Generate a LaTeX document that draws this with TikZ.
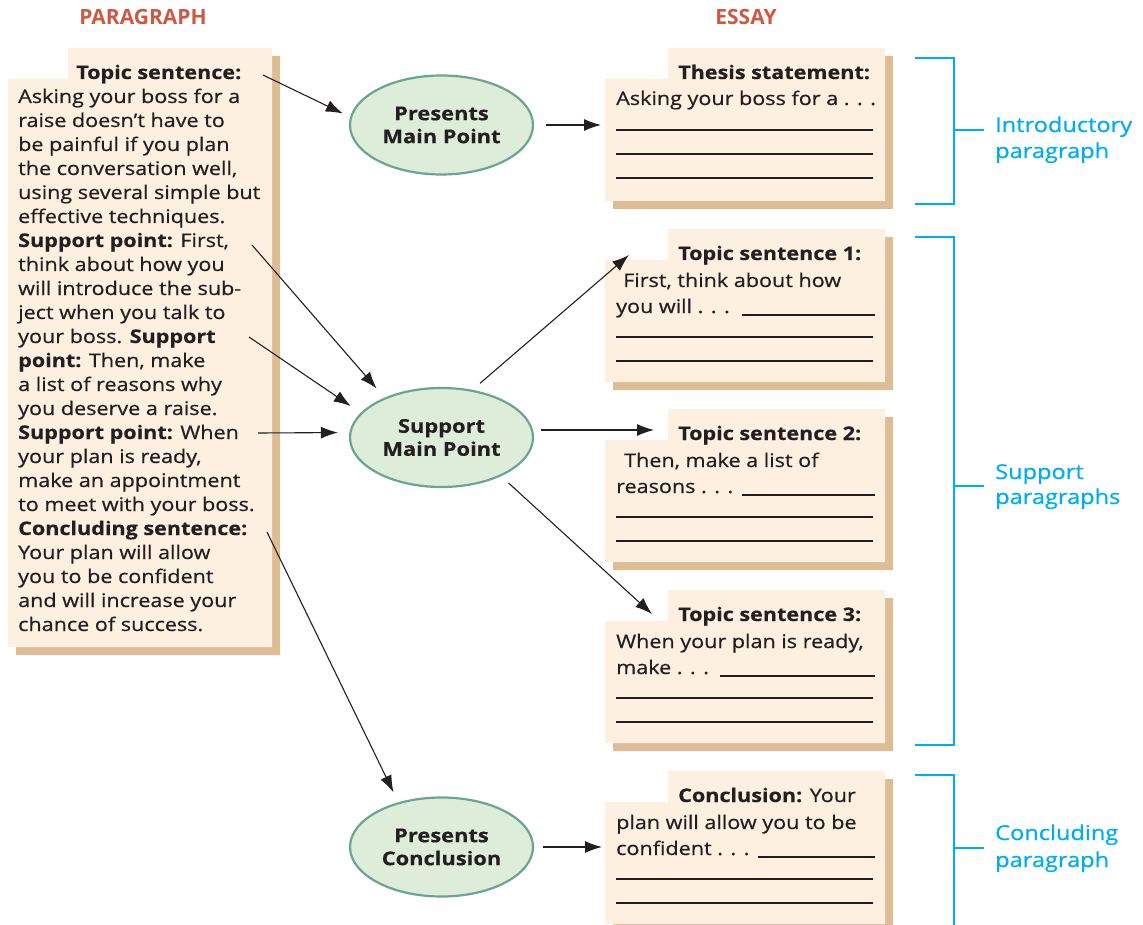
\documentclass[tikz,border=0pt]{standalone}
\usepackage{fontspec}
\setmainfont{Open Sans}[FakeStretch=1.15, UprightFeatures={FakeBold=0.6}, BoldFeatures={FakeBold=0.4}]
\newfontfamily\headfont{Open Sans}[FakeStretch=1.0]
\usetikzlibrary{shapes.geometric,arrows.meta}

\definecolor{paper}{HTML}{FDF0E1}
\definecolor{papershadow}{HTML}{DEBD95}
\definecolor{bubblefill}{HTML}{DDEDDA}
\definecolor{bubbleline}{HTML}{6AA68F}
\definecolor{brackblue}{HTML}{00AEEF}
\definecolor{headred}{HTML}{CC5A42}
\definecolor{ink}{HTML}{231F20}

% name, left, tab x, top, right, bottom
\newcommand{\notebox}[6]{%
  \foreach \dx/\col in {8/papershadow,0/paper}
    \fill[\col, shift={(\dx,\dx)}] (#3,#4) -- (#5,#4) -- (#5,#6) -- (#2,#6)
      -- (#2,{#4+31}) -- (#3,{#4+31}) -- cycle;
  \coordinate (#1) at (#2,{#4+31});
}

\begin{document}
\begin{tikzpicture}[
        x=1pt, y=-1pt,
        line/.style={anchor=base west, inner sep=0pt, text=ink, font=\fontsize{18.75}{24}\selectfont},
        head/.style={inner sep=0pt, text=headred, font=\headfont\bfseries\fontsize{21}{24}\selectfont},
        bubble/.style={ellipse, draw=bubbleline, fill=bubblefill, line width=2.2pt,
            minimum width=183pt, minimum height=99pt, inner sep=0pt, align=center,
            text=ink, font=\bfseries\fontsize{19}{23}\selectfont},
        arr/.style={-{Latex[length=17pt,width=12pt]}, line width=1.1pt, draw=ink},
        rule/.style={line width=1.6pt, draw=ink},
        bracket/.style={line width=1.5pt, draw=brackblue},
        blabel/.style={anchor=base west, inner sep=0pt, text=brackblue, font=\fontsize{20.5}{26}\selectfont}
        ]
        \useasboundingbox (0,0) rectangle (1143,925);

        \node[head] (paratitle) at (143,17) {PARAGRAPH};
        \node[head] (essaytitle) at (746,17) {ESSAY};

        % paragraph side
        \notebox{parabox}{8}{68}{48}{272}{647}
        \node[line] (para0) at (76,79) {\textbf{Topic sentence:}};
        \foreach \txt [count=\i] in {
            {Asking your boss for a},
            {raise doesn’t have to},
            {be painful if you plan},
            {the conversation well,},
            {using several simple but},
            {effective techniques.},
            {\textbf{Support point:} First,},
            {think about how you},
            {will introduce the sub-},
            {ject when you talk to},
            {your boss. \textbf{Support}},
            {\textbf{point:} Then, make},
            {a list of reasons why},
            {you deserve a raise.},
            {\textbf{Support point:} When},
            {your plan is ready,},
            {make an appointment},
            {to meet with your boss.},
            {\textbf{Concluding sentence:}},
            {Your plan will allow},
            {you to be confident},
            {and will increase your},
            {chance of success.}}
            \node[line] (para\i) at (18,{79+24*\i}) {\txt};

        \coordinate (fromtopic) at (263,75);
        \coordinate (fromfirst) at (252,245);
        \coordinate (fromthen) at (249,337);
        \coordinate (fromwhen) at (258,433);
        \coordinate (fromconc) at (267,532);

        % ovals
        \node[bubble] (mainpt) at (441.5,125) {Presents\\Main Point};
        \node[bubble] (suppt) at (441.5,437.5) {Support\\Main Point};
        \node[bubble] (concpt) at (441.5,847) {Presents\\Conclusion};

        % essay side
        \notebox{thesis}{605}{668}{48}{885}{201}
        \node[line] (thesishead) at (678,79) {\textbf{Thesis statement:}};
        \node[line] (thesistext) at (616,105) {Asking your boss for a . . .};
        \foreach \y in {130,154,178}
            \draw[rule] (616,\y) -- (873,\y);

        \notebox{ts1}{605}{668}{229}{885}{382}
        \node[line] (ts1head) at (678,260) {\textbf{Topic sentence 1:}};
        \node[line] (ts1texta) at (623,287) {First, think about how};
        \node[line] (ts1textb) at (616,313) {you will . . .};
        \draw[rule] (742,315) -- (875,315);
        \foreach \y in {337,361}
            \draw[rule] (616,\y) -- (873,\y);

        \notebox{ts2}{605}{668}{409}{885}{562}
        \node[line] (ts2head) at (678,440) {\textbf{Topic sentence 2:}};
        \node[line] (ts2texta) at (624,467) {Then, make a list of};
        \node[line] (ts2textb) at (616,493) {reasons . . .};
        \draw[rule] (742,495) -- (875,495);
        \foreach \y in {517,541}
            \draw[rule] (616,\y) -- (873,\y);

        \notebox{ts3}{605}{668}{590}{885}{743}
        \node[line] (ts3head) at (678,621) {\textbf{Topic sentence 3:}};
        \node[line] (ts3texta) at (616,648) {When your plan is ready,};
        \node[line] (ts3textb) at (616,674) {make . . .};
        \draw[rule] (720,676) -- (875,676);
        \foreach \y in {698,722}
            \draw[rule] (616,\y) -- (873,\y);

        \notebox{concl}{605}{668}{771}{885}{924}
        \node[line] (conclhead) at (678,802) {\textbf{Conclusion:} Your};
        \node[line] (concltexta) at (616,829) {plan will allow you to be};
        \node[line] (concltextb) at (616,855) {confident . . .};
        \draw[rule] (758,857) -- (875,857);
        \foreach \y in {879,903}
            \draw[rule] (616,\y) -- (873,\y);

        % arrows
        \draw[arr, shorten >=8pt] (fromtopic) -- (mainpt.175);
        \draw[arr, shorten <=12pt] (mainpt.east) -- ([shift={(-4,46)}]thesis);
        \draw[arr, shorten >=12pt] (fromfirst) -- (suppt.145);
        \draw[arr, shorten >=12pt] (fromthen) -- (suppt.163);
        \draw[arr, shorten >=11pt] (fromwhen) -- ([yshift=5pt]suppt.west);
        \draw[arr, shorten <=10pt] (suppt.57) -- ([shift={(24,-5)}]ts1);
        \draw[arr, shorten <=7pt] ([yshift=7.5pt]suppt.east) -- ([shift={(49,-10)}]ts2);
        \draw[arr, shorten <=10pt] (suppt.-33) -- ([shift={(47,-7)}]ts3);
        \draw[arr, shorten >=11pt] (fromconc) -- (concpt.134);
        \draw[arr, shorten <=9pt] (concpt.east) -- ([shift={(-3,45)}]concl);

        % brackets
        \draw[bracket] (915,58) -- (954,58) -- (954,204) -- (915,204);
        \draw[bracket] (954,130) -- (984,130);
        \node[blabel] (introa) at (995,132) {Introductory};
        \node[blabel] (introb) at (995,158) {paragraph};

        \draw[bracket] (915,237) -- (954,237) -- (954,745) -- (915,745);
        \draw[bracket] (954,486) -- (984,486);
        \node[blabel] (supa) at (995,479) {Support};
        \node[blabel] (supb) at (995,504) {paragraphs};

        \draw[bracket] (915,775) -- (954,775) -- (954,925);
        \draw[bracket] (954,848) -- (984,848);
        \node[blabel] (conca) at (995,840) {Concluding};
        \node[blabel] (concb) at (995,867) {paragraph};
\end{tikzpicture}
\end{document}
